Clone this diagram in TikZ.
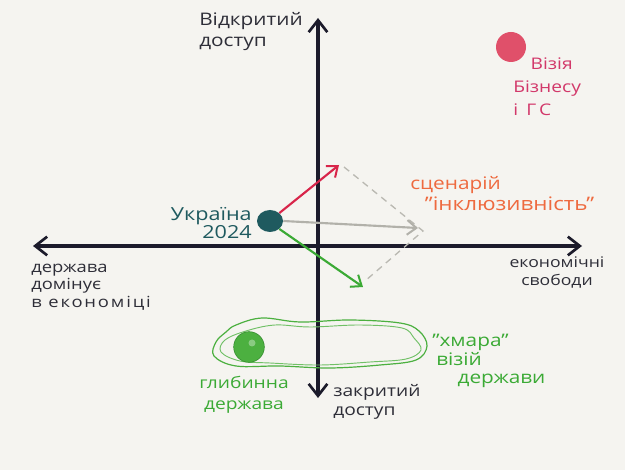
\documentclass[tikz,border=0pt]{standalone}
\usepackage{fontspec}
\setmainfont{Open Sans}[FakeStretch=1.2]
\usetikzlibrary{arrows.meta,shapes.geometric}
\definecolor{bg}{HTML}{F5F4F0}
\definecolor{axis}{HTML}{1C1B2B}
\definecolor{teal}{HTML}{1F5A5F}
\definecolor{redv}{HTML}{D8254A}
\definecolor{redt}{HTML}{D2386A}
\definecolor{redd}{HTML}{E0506A}
\definecolor{greyv}{HTML}{B2B1AA}
\definecolor{greenv}{HTML}{3BAA35}
\definecolor{greend}{HTML}{4CB040}
\definecolor{orangev}{HTML}{EE6A3F}
\definecolor{inkt}{HTML}{2E2E38}
\tikzset{
  axisline/.style={draw=axis, line width=2.6pt, -{Straight Barb[length=9pt,width=14pt,line width=2pt]}},
  vec/.style={line width=1.6pt, -{Straight Barb[length=7pt,width=11pt,line width=1.5pt]}},
  dashl/.style={draw=greyv!90, line width=1pt, dash pattern=on 5pt off 4pt},
  lbl/.style={inner sep=0pt},
  dot/.style={circle, inner sep=0pt},
}
\begin{document}
\begin{tikzpicture}[x=0.75pt,y=-0.75pt]
\fill[bg] (0,0) rectangle (625,470);
\useasboundingbox (0,0) rectangle (625,470);
% axes
\coordinate (ctr) at (318,246);
\coordinate (top) at (318,18);
\coordinate (bot) at (318,398);
\coordinate (lft) at (33,246);
\coordinate (rgt) at (582,246);
\draw[axisline] (ctr) -- (top);
\draw[axisline] (ctr) -- (bot);
\draw[axisline] (ctr) -- (lft);
\draw[axisline] (ctr) -- (rgt);
% cloud
\draw[greend, line width=0.9pt] plot[smooth cycle, tension=0.6] coordinates {
  (236,325) (262,318) (300,322) (350,320) (400,323) (419,331) (427,346)
  (416,360) (380,365) (330,368) (280,366) (236,366) (214,356) (216,342) (226,332)};
\draw[greend!80, line width=0.7pt] plot[smooth cycle, tension=0.6] coordinates {
  (246,331) (275,325) (310,327) (360,325) (402,328) (414,338) (421,350)
  (406,359) (370,362) (320,365) (270,363) (240,361) (221,352) (225,340)};
% dots
\node[dot, fill=redd, minimum size=22.5pt] (biz) at (511,47) {};
\node[dot, fill=greend, draw=greenv!80!black, line width=0.4pt, minimum size=23pt] (deep) at (249,347) {};
\fill[white, opacity=0.35] (252,343) circle (3.5);
\node[ellipse, fill=teal, inner sep=0pt, minimum width=19.5pt, minimum height=16.5pt] (ua) at (270,221) {};
% vectors
\coordinate (r) at (339,165);
\coordinate (g) at (418,228);
\coordinate (gr) at (363,287);
\coordinate (d1) at (344,167);
\coordinate (d2) at (423,231);
\coordinate (d3) at (365,281);
\draw[dashl] (d1) -- (d2) -- (d3);
\draw[vec, redv] (ua.north east) -- (r);
\draw[vec, greyv] (ua.east) -- (g);
\draw[vec, greenv] (ua.south east) -- (gr);
% labels
\node[lbl, inkt, anchor=north west, align=left, font=\fontsize{13}{16}\selectfont] (open) at (199,12) {Відкритий\\доступ};
\node[lbl, inkt, anchor=north west, align=left, font=\fontsize{12}{14}\selectfont] (closed) at (333,384) {закритий\\доступ};
\node[lbl, inkt, anchor=north west, align=left, font=\fontsize{11.5}{13}\selectfont] (state) at (31,264) {держава\\домінує\\{\addfontfeature{LetterSpace=12}в економіці}};
\node[lbl, inkt, anchor=north, align=center, font=\fontsize{11}{14}\selectfont] (econ) at (557,256) {економічні\\свободи};
\node[lbl, redt, anchor=north west, align=left, font=\fontsize{12}{17.5}\selectfont] (bizt) at (513,57) {\hspace*{13pt}Візія\\Бізнесу\\{\addfontfeature{LetterSpace=20}і ГС}};
\node[lbl, orangev, anchor=north west, align=left, font=\fontsize{13}{16}\selectfont] (scen) at (410,176) {сценарій\\\hspace*{11pt}{\fontsize{14}{16}\selectfont"інклюзивність"}};
\node[lbl, teal, anchor=east, align=right, font=\fontsize{13.5}{12}\selectfont] (uat) at (252,223) {Україна\\2024};
\node[lbl, greenv, anchor=north, align=center, font=\fontsize{12}{16}\selectfont] (deept) at (244,376) {глибинна\\держава};
\node[lbl, greenv, anchor=north west, align=left, font=\fontsize{13}{14}\selectfont] (cloudt) at (432,334) {"хмара"\\\hspace*{3pt}візій\\\hspace*{19pt}держави};
\end{tikzpicture}
\end{document}
